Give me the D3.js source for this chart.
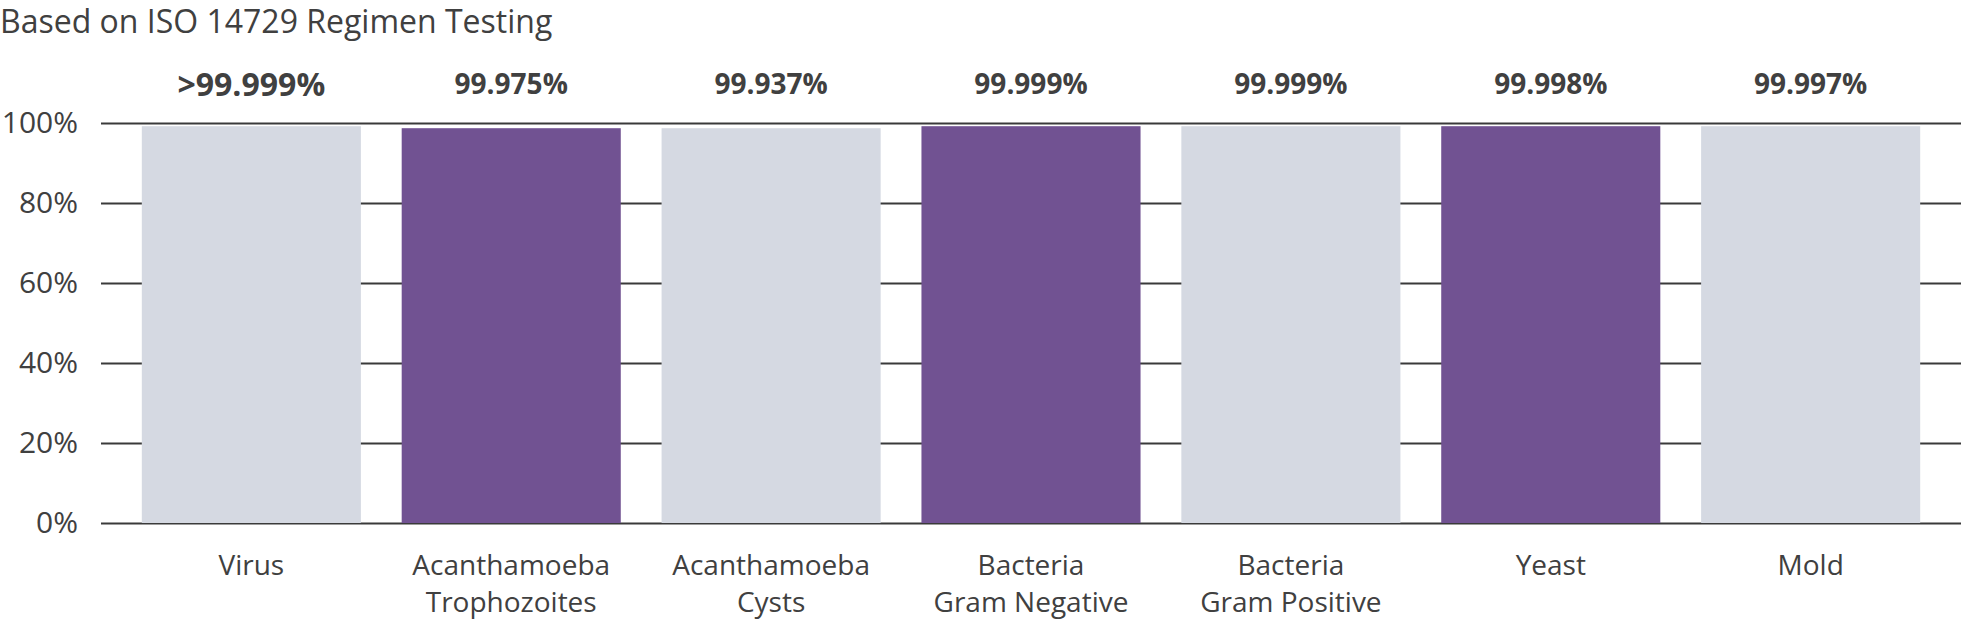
<!DOCTYPE html>
<html>
<head>
<meta charset="utf-8">
<script src="https://cdn.jsdelivr.net/npm/d3@7"></script>
<style>
  body { margin: 0; background: #fff; }
  svg { display: block; font-family: 'Open Sans', sans-serif; }
</style>
</head>
<body>
<svg width="1961" height="620"></svg>
<script>
// chart data
const categories = ['Virus', 'Acanthamoeba Trophozoites', 'Acanthamoeba Cysts',
  'Bacteria Gram Negative', 'Bacteria Gram Positive', 'Yeast', 'Mold'];
const categoryLines = [['Virus'], ['Acanthamoeba', 'Trophozoites'], ['Acanthamoeba', 'Cysts'],
  ['Bacteria', 'Gram Negative'], ['Bacteria', 'Gram Positive'], ['Yeast'], ['Mold']];
// bar heights as drawn in the picture (percent)
const barValues = [99.2, 98.7, 98.7, 99.2, 99.2, 99.2, 99.2];
const valueLabels = ['>99.999%', '99.975%', '99.937%', '99.999%', '99.999%', '99.998%', '99.997%'];
const yTicks = [0, 20, 40, 60, 80, 100];

const title = 'Based on ISO 14729 Regimen Testing';

const chartWidth = 1961;
const plotLeft = 101;
const plotTop = 123;
const plotBottom = 523;
const textColor = '#404040';

const svg = d3.select('svg');

const xScale = d3.scaleBand().domain(categories).range([plotLeft, chartWidth]).paddingInner(0.157).paddingOuter(0.157);
const yScale = d3.scaleLinear().domain([0, 100]).range([plotBottom, plotTop]);

svg.append('text')
  .attr('x', 0)
  .attr('y', 33)
  .style('font-size', '32px')
  .style('fill', textColor)
  .text(title);

// gridlines + y labels
const yAxis = d3.axisLeft(yScale)
  .tickValues(yTicks)
  .tickSize(-(chartWidth - plotLeft))
  .tickPadding(plotLeft - 78)
  .tickFormat((d) => d + '%');

const yg = svg.append('g')
  .attr('transform', `translate(${plotLeft},0)`)
  .call(yAxis);

yg.select('.domain').remove();
yg.selectAll('.tick line').attr('stroke', '#3a3a3a').attr('stroke-width', 2);
yg.selectAll('.tick text')
  .attr('fill', textColor)
  .style('font-family', "'Open Sans', sans-serif")
  .style('font-size', '30px');

// bars
svg.selectAll('rect.bar')
  .data(categories)
  .enter()
  .append('rect')
    .attr('class', 'bar')
    .attr('x', (d) => xScale(d))
    .attr('y', (d, i) => yScale(barValues[i]))
    .attr('width', xScale.bandwidth())
    .attr('height', (d, i) => yScale(0) - yScale(barValues[i]))
    .style('fill', (d, i) => (i % 2 ? '#715292' : '#d5d9e2'));

// value labels above bars
svg.selectAll('text.value')
  .data(categories)
  .enter()
  .append('text')
    .attr('class', 'value')
    .attr('x', (d) => xScale(d) + xScale.bandwidth() / 2)
    .attr('y', (d, i) => (i === 0 ? 96 : 94))
    .attr('text-anchor', 'middle')
    .style('font-weight', 'bold')
    .style('font-size', (d, i) => (i === 0 ? '32px' : '28px'))
    .style('fill', textColor)
    .text((d, i) => valueLabels[i]);

// category labels
const catText = svg.selectAll('text.cat')
  .data(categories)
  .enter()
  .append('text')
    .attr('class', 'cat')
    .attr('text-anchor', 'middle')
    .style('font-size', '28px')
    .style('fill', textColor);

catText.each(function (d, i) {
  const t = d3.select(this);
  categoryLines[i].forEach((line, j) => {
    t.append('tspan')
      .attr('x', xScale(d) + xScale.bandwidth() / 2)
      .attr('y', 575 + j * 37)
      .text(line);
  });
});
</script>
</body>
</html>
